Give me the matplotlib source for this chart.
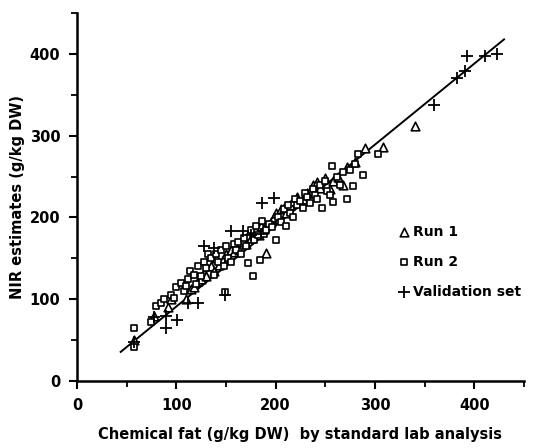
import matplotlib.pyplot as plt
import numpy as np

# Run 1 (triangles)
run1_x = [57, 78, 92, 95, 110, 115, 118, 122, 125, 128, 130, 135, 138, 140, 143, 147,
          150, 152, 155, 158, 160, 163, 165, 168, 170, 172, 175, 178, 180, 183, 185, 188,
          190, 195, 198, 200, 203, 205, 208, 210, 215, 218, 222, 228, 232, 238, 242, 245,
          250, 255, 258, 263, 268, 272, 280, 290, 308, 340]
run1_y = [50, 80, 90, 100, 100, 112, 115, 122, 125, 132, 128, 140, 135, 150, 142, 148,
          155, 150, 160, 158, 165, 160, 170, 172, 168, 178, 175, 182, 185, 178, 190, 186,
          156, 195, 200, 205, 198, 210, 212, 205, 215, 220, 225, 222, 230, 240, 243, 236,
          248, 235, 245, 250, 240, 262, 268, 285, 286, 312]

# Run 2 (squares)
run2_x = [57, 57, 75, 80, 85, 88, 95, 98, 100, 105, 108, 110, 112, 114, 118, 120, 122,
          125, 128, 130, 132, 135, 138, 140, 142, 145, 148, 149, 150, 152, 155, 158, 160,
          162, 165, 168, 170, 172, 175, 177, 178, 180, 182, 184, 186, 188, 190, 193, 196,
          200, 202, 205, 208, 210, 212, 215, 218, 220, 222, 225, 228, 230, 232, 235, 238,
          240, 242, 245, 247, 250, 252, 255, 257, 258, 262, 265, 268, 272, 275, 278, 280,
          283, 288, 303]
run2_y = [65, 42, 72, 92, 95, 100, 105, 102, 115, 120, 110, 116, 125, 135, 130, 118, 140,
          128, 145, 138, 155, 150, 130, 155, 145, 160, 140, 109, 165, 150, 145, 168, 160,
          170, 155, 175, 165, 144, 185, 128, 172, 190, 178, 148, 196, 180, 185, 192, 188,
          172, 200, 195, 210, 190, 215, 205, 200, 223, 215, 220, 212, 230, 225, 218, 235,
          228, 222, 240, 212, 245, 232, 228, 263, 219, 250, 240, 255, 222, 258, 238, 265,
          278, 252, 278]

# Validation set (plus)
val_x = [57, 78, 90, 90, 101, 112, 122, 128, 138, 149, 155, 167, 175, 185, 186, 198,
         360, 383, 391, 393, 411, 423]
val_y = [48, 78, 80, 65, 74, 95, 95, 165, 163, 105, 183, 183, 178, 180, 218, 224,
         338, 370, 379, 398, 398, 400]

# regression line
line_x = [44, 430]
slope, intercept = 0.99, -8.0

fig = plt.figure(figsize=(5.44, 4.48), dpi=100)
ax = fig.add_axes([0.1415, 0.1496, 0.8215, 0.8214])

ax.plot(line_x, [slope * v + intercept for v in line_x], color='black', lw=1.4, zorder=1)
ax.scatter(run1_x, run1_y, marker='^', s=38, facecolors='white', edgecolors='black',
           linewidths=1.2, label='Run 1', zorder=2)
ax.scatter(run2_x, run2_y, marker='s', s=24, facecolors='white', edgecolors='black',
           linewidths=1.2, label='Run 2', zorder=3)
ax.scatter(val_x, val_y, marker='+', s=80, color='black', linewidths=1.3,
           label='Validation set', zorder=4)

ax.set_xlim(0, 450)
ax.set_ylim(0, 450)
ax.spines['top'].set_visible(False)
ax.spines['right'].set_visible(False)
ax.spines['left'].set_linewidth(1.8)
ax.spines['bottom'].set_linewidth(1.8)
ax.set_xticks([0, 100, 200, 300, 400])
ax.set_yticks([0, 100, 200, 300, 400])
ax.set_xticks([50, 150, 250, 350, 450], minor=True)
ax.set_yticks([50, 150, 250, 350, 450], minor=True)
ax.tick_params(which='major', length=6, width=1.5, labelsize=10.5, pad=6)
ax.tick_params(which='minor', length=4, width=1.3)
for lab in ax.get_xticklabels() + ax.get_yticklabels():
    lab.set_fontweight('bold')

ax.set_xlabel('Chemical fat (g/kg DW)  by standard lab analysis', fontsize=10.5,
              fontweight='bold', labelpad=10)
ax.set_ylabel('NIR estimates (g/kg DW)', fontsize=10.5, fontweight='bold', labelpad=3)

leg = ax.legend(loc='upper left', bbox_to_anchor=(0.70, 0.44), frameon=False,
                fontsize=10, handletextpad=0.1, labelspacing=1.15, handlelength=1.2,
                borderaxespad=0)
for t in leg.get_texts():
    t.set_fontweight('bold')

fig.savefig('out.png', dpi=100)
